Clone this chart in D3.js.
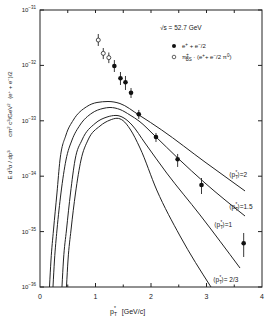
<!DOCTYPE html>
<html>
<head>
<meta charset="utf-8">
<script src="https://cdn.jsdelivr.net/npm/d3@7"></script>
<style>
  body { margin: 0; background: #fff; }
  svg { display: block; }
  text { font-family: "Liberation Sans", "DejaVu Sans", sans-serif; fill: #222; }
</style>
</head>
<body>
<svg id="chart"></svg>
<script>
// data points: e+ + e- / 2 (filled) and pi_BS * (e+ + e- / 2 pi0) (open)
const filledX  = [1.34, 1.45, 1.54, 1.64, 1.78, 2.09, 2.48, 2.91, 3.67];
const filledY  = [9.75e-33, 5.85e-33, 4.95e-33, 3.21e-33, 1.31e-33, 5.10e-34, 2.02e-34, 6.93e-35, 6.15e-36];
const filledLo = [7.60e-33, 4.43e-33, 3.60e-33, 2.58e-33, 1.08e-33, 4.14e-34, 1.47e-34, 4.77e-35, 3.48e-36];
const filledHi = [1.25e-32, 7.60e-33, 6.44e-33, 3.91e-33, 1.57e-33, 6.03e-34, 2.52e-34, 9.27e-35, 9.44e-36];

const openX  = [1.05, 1.14, 1.24];
const openY  = [2.87e-32, 1.65e-32, 1.38e-32];
const openLo = [2.24e-32, 1.30e-32, 1.10e-32];
const openHi = [3.69e-32, 2.06e-32, 1.71e-32];

// model curves for <pT*> = 2, 1.5, 1, 2/3
const curve2X  = [0.171, 0.198, 0.243, 0.306, 0.360, 0.468, 0.600, 0.841, 1.027, 1.225, 1.441, 1.784, 2.193, 2.973, 3.694];
const curve2Y  = [1e-36, 3.07e-36, 1.07e-35, 4.98e-35, 1.96e-34, 5.54e-34, 1.03e-33, 1.80e-33, 2.14e-33, 2.23e-33, 2.05e-33, 1.27e-33, 6.82e-34, 1.80e-34, 5.41e-35];
const curve15X = [0.234, 0.261, 0.306, 0.378, 0.468, 0.577, 0.721, 0.937, 1.135, 1.261, 1.441, 1.622, 1.784, 2.072, 2.481, 2.973, 3.694];
const curve15Y = [1e-36, 3.07e-36, 1.07e-35, 4.98e-35, 1.96e-34, 4.50e-34, 8.39e-34, 1.38e-33, 1.67e-33, 1.74e-33, 1.60e-33, 1.27e-33, 9.91e-34, 5.32e-34, 2.13e-34, 7.53e-35, 1.91e-35];
const curve1X  = [0.396, 0.423, 0.477, 0.550, 0.631, 0.757, 0.991, 1.207, 1.369, 1.514, 1.658, 1.892, 2.283, 2.883, 3.604];
const curve1Y  = [1e-36, 3.07e-36, 1.07e-35, 4.98e-35, 1.96e-34, 4.50e-34, 8.93e-34, 1.17e-33, 1.25e-33, 1.12e-33, 8.39e-34, 3.97e-34, 1.14e-34, 2.00e-35, 2.20e-36];
const curve23X = [0.477, 0.505, 0.559, 0.640, 0.739, 0.865, 1.081, 1.261, 1.387, 1.495, 1.622, 1.802, 2.103, 2.523, 3.081];
const curve23Y = [1e-36, 3.07e-36, 1.07e-35, 4.98e-35, 1.96e-34, 4.50e-34, 8.05e-34, 1.03e-33, 1.11e-33, 1.01e-33, 7.11e-34, 3.23e-34, 5.64e-35, 8.34e-36, 1e-36];

const xTickLabels = ['0', '1', '2', '3', '4'];
const yExponents = [-31, -32, -33, -34, -35, -36];

const width = 274, height = 319;
const margin = { top: 10, right: 12, bottom: 32, left: 40 };
const innerW = width - margin.left - margin.right;
const innerH = height - margin.top - margin.bottom;

const svg = d3.select('#chart')
  .attr('width', width)
  .attr('height', height);

const g = svg.append('g')
  .attr('transform', `translate(${margin.left},${margin.top})`);

const x = d3.scaleLinear().domain([0, 4]).range([0, innerW]);
const y = d3.scaleLog().domain([1e-36, 1e-31]).range([innerH, 0]);

// frame
g.append('rect')
  .attr('width', innerW)
  .attr('height', innerH)
  .attr('fill', 'none')
  .attr('stroke', '#222')
  .attr('stroke-width', 1);

// inward ticks
const halfSteps = d3.range(0.5, 4, 0.5);
g.selectAll('.tick-top').data(halfSteps).enter().append('line')
  .attr('x1', d => x(d)).attr('x2', d => x(d))
  .attr('y1', 0).attr('y2', 3)
  .attr('stroke', '#222');
g.selectAll('.tick-bot').data(halfSteps).enter().append('line')
  .attr('x1', d => x(d)).attr('x2', d => x(d))
  .attr('y1', innerH).attr('y2', d => innerH - (d % 1 === 0 ? 4 : 2.5))
  .attr('stroke', '#222');
g.selectAll('.tick-left').data(yExponents).enter().append('line')
  .attr('x1', 0).attr('x2', 4)
  .attr('y1', d => y(Math.pow(10, d))).attr('y2', d => y(Math.pow(10, d)))
  .attr('stroke', '#222');
g.selectAll('.tick-right').data(yExponents).enter().append('line')
  .attr('x1', innerW).attr('x2', innerW - 4)
  .attr('y1', d => y(Math.pow(10, d))).attr('y2', d => y(Math.pow(10, d)))
  .attr('stroke', '#222');

// x tick labels
g.selectAll('.xlab').data(xTickLabels).enter().append('text')
  .attr('x', (d, i) => x(i))
  .attr('y', innerH + 12)
  .attr('text-anchor', 'middle')
  .style('font-size', '7px')
  .text(d => d);

// y tick labels 10^n
const ylab = g.selectAll('.ylab').data(yExponents).enter().append('text')
  .attr('x', -4)
  .attr('y', d => y(Math.pow(10, d)) + 2)
  .attr('text-anchor', 'end')
  .style('font-size', '6px');
ylab.append('tspan').text('10');
ylab.append('tspan')
  .attr('dy', -3)
  .style('font-size', '4.5px')
  .text(d => '\u2212' + Math.abs(d));

// curves
const line = d3.line()
  .x(d => x(d[0]))
  .y(d => y(d[1]))
  .curve(d3.curveMonotoneX);

const curves = [
  [curve2X, curve2Y],
  [curve15X, curve15Y],
  [curve1X, curve1Y],
  [curve23X, curve23Y]
];

svg.append('clipPath').attr('id', 'clip')
  .append('rect').attr('width', innerW).attr('height', innerH);

const plot = g.append('g').attr('clip-path', 'url(#clip)');
curves.forEach(c => {
  plot.append('path')
    .datum(c[0].map((v, i) => [v, c[1][i]]))
    .attr('fill', 'none')
    .attr('stroke', '#222')
    .attr('stroke-width', 1)
    .attr('d', line);
});

// error bars + points
const filled = filledX.map((v, i) => ({ x: v, y: filledY[i], lo: filledLo[i], hi: filledHi[i] }));
const open = openX.map((v, i) => ({ x: v, y: openY[i], lo: openLo[i], hi: openHi[i] }));

plot.selectAll('.err').data(filled.concat(open)).enter().append('line')
  .attr('x1', d => x(d.x)).attr('x2', d => x(d.x))
  .attr('y1', d => y(d.lo)).attr('y2', d => y(d.hi))
  .attr('stroke', '#222')
  .attr('stroke-width', 0.9);

plot.selectAll('.pf').data(filled).enter().append('circle')
  .attr('cx', d => x(d.x)).attr('cy', d => y(d.y))
  .attr('r', 2.3)
  .attr('fill', '#111');

plot.selectAll('.po').data(open).enter().append('circle')
  .attr('cx', d => x(d.x)).attr('cy', d => y(d.y))
  .attr('r', 2)
  .attr('fill', '#fff')
  .attr('stroke', '#222')
  .attr('stroke-width', 0.8);

// curve labels
const curveLabels = [
  { t: '2', px: 189, py: 167 },
  { t: '1.5', px: 189, py: 199 },
  { t: '1', px: 174, py: 217 },
  { t: ' 2/3', px: 173, py: 272 }
];
curveLabels.forEach(l => {
  const t = g.append('text')
    .attr('x', l.px).attr('y', l.py)
    .style('font-size', '6.5px');
  t.append('tspan').text('\u27E8p');
  t.append('tspan').attr('dy', 1.5).style('font-size', '4.5px').text('T');
  t.append('tspan').attr('dx', -2.5).attr('dy', -4.5).style('font-size', '4.5px').text('*');
  t.append('tspan').attr('dy', 3).text('\u27E9=' + l.t);
});

// legend
const leg = g.append('g');
leg.append('text')
  .attr('x', 120).attr('y', 20)
  .style('font-size', '6.5px')
  .text('\u221As = 52.7 GeV');
leg.append('circle').attr('cx', 134).attr('cy', 36).attr('r', 2).attr('fill', '#111');
const l1 = leg.append('text').attr('x', 142).attr('y', 38).style('font-size', '6px');
l1.append('tspan').text('e');
l1.append('tspan').attr('dy', -2.5).style('font-size', '4.5px').text('+');
l1.append('tspan').attr('dy', 2.5).text(' + e');
l1.append('tspan').attr('dy', -2.5).style('font-size', '4.5px').text('\u2212');
l1.append('tspan').attr('dy', 2.5).text('/2');

leg.append('circle').attr('cx', 134).attr('cy', 47).attr('r', 1.8)
  .attr('fill', '#fff').attr('stroke', '#222').attr('stroke-width', 0.7);
const l2 = leg.append('text').attr('x', 142).attr('y', 49).style('font-size', '6px');
l2.append('tspan').text('\u03C0');
l2.append('tspan').attr('dy', -2.5).style('font-size', '4.5px').text('\u00B1');
l2.append('tspan').attr('dx', -3).attr('dy', 4.5).style('font-size', '4.5px').text('BS');
l2.append('tspan').attr('dy', -2).text(' \u00B7 (e');
l2.append('tspan').attr('dy', -2.5).style('font-size', '4.5px').text('+');
l2.append('tspan').attr('dy', 2.5).text('+ e');
l2.append('tspan').attr('dy', -2.5).style('font-size', '4.5px').text('\u2212');
l2.append('tspan').attr('dy', 2.5).text('/2 \u03C0');
l2.append('tspan').attr('dy', -2.5).style('font-size', '4.5px').text('0');
l2.append('tspan').attr('dy', 2.5).text(')');

// x axis title
const xt = svg.append('text')
  .attr('x', 110).attr('y', 314)
  .attr('xml:space', 'preserve')
  .style('font-size', '7px');
xt.append('tspan').text('p');
xt.append('tspan').attr('dy', 2).style('font-size', '5px').text('T');
xt.append('tspan').attr('dx', -3).attr('dy', -6).style('font-size', '5px').text('*');
xt.append('tspan').attr('dy', 4).text('   [GeV/c]');

// y axis title, three groups
const yGroups = [
  { cy: 165, parts: [['E d', 0], ['3', 1], ['\u03C3 / dp', 0], ['3', 1]] },
  { cy: 120, parts: [['cm', 0], ['2', 1], [' c', 0], ['3', 1], ['/GeV', 0], ['2', 1]] },
  { cy: 85,  parts: [['(e', 0], ['+', 1], [' + e', 0], ['\u2212', 1], [')/2', 0]] }
];
yGroups.forEach(gr => {
  const t = svg.append('text')
    .attr('transform', `translate(12,${gr.cy}) rotate(-90)`)
    .attr('text-anchor', 'middle')
    .style('font-size', '6px');
  let up = false;
  gr.parts.forEach(p => {
    const sp = t.append('tspan').text(p[0]);
    if (p[1]) sp.style('font-size', '4.2px');
    if (p[1] && !up) { sp.attr('dy', -2.5); up = true; }
    else if (!p[1] && up) { sp.attr('dy', 2.5); up = false; }
  });
});
</script>
</body>
</html>
